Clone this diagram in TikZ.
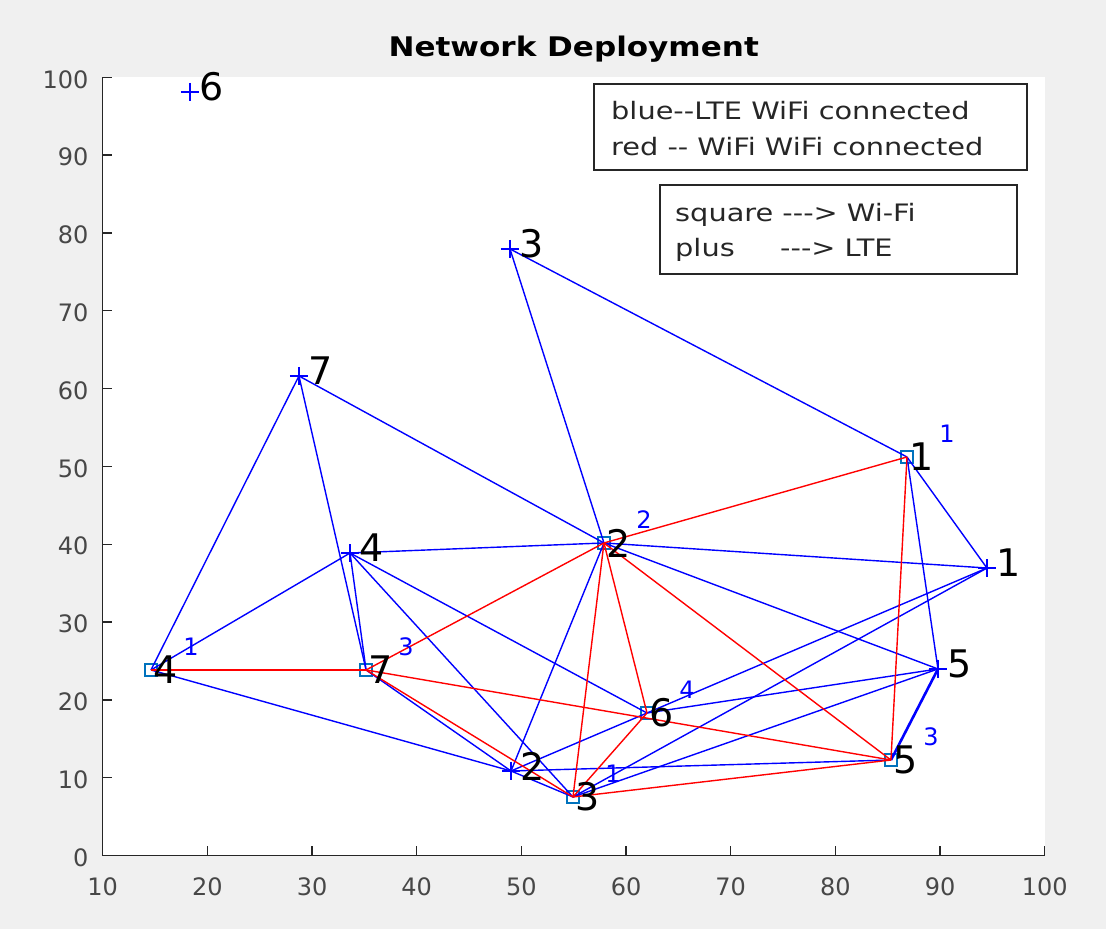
\documentclass[tikz,border=0pt]{standalone}
\usepackage{fontspec}
\setmainfont{DejaVu Sans}[Ligatures=TeXOff]
\newfontfamily\widefont{DejaVu Sans}[Ligatures=TeXOff, FakeStretch=1.2]
\newfontfamily\widebold{DejaVu Sans Bold}[Ligatures=TeXOff, FakeStretch=1.15]
\definecolor{figbg}{RGB}{240,240,240}
\definecolor{axcol}{RGB}{38,38,38}
\definecolor{wificol}{RGB}{0,114,189}
\definecolor{ltecol}{RGB}{0,0,255}
\definecolor{wwcol}{RGB}{255,0,0}
\begin{document}
\begin{tikzpicture}[x=1pt,y=1pt,
  axisline/.style={axcol, line width=1.3pt},
  ticklbl/.style={text=axcol!85, font=\fontsize{24}{28}\selectfont, inner sep=0pt},
  lte/.style={inner sep=0pt, minimum size=18pt,
    path picture={\draw[ltecol, line width=1.8pt]
      (path picture bounding box.north) -- (path picture bounding box.south)
      (path picture bounding box.west) -- (path picture bounding box.east);}},
  wifi/.style={draw=wificol, line width=1.4pt, inner sep=0pt, minimum size=12pt},
  lteedge/.style={ltecol, line width=1.4pt},
  wwedge/.style={wwcol, line width=1.4pt},
  biglbl/.style={font=\fontsize{38}{40}\selectfont, inner sep=0pt, text=black},
  chlbl/.style={font=\fontsize{24}{26}\selectfont, inner sep=0pt, text=ltecol},
  legbox/.style={draw=axcol, line width=1.3pt, fill=white},
  legtxt/.style={font=\widefont\fontsize{24}{26}\selectfont, inner sep=0pt, text=axcol, anchor=base west}
]
\useasboundingbox (0,0) rectangle (1106,929);
\fill[figbg] (0,0) rectangle (1106,929);
\fill[white] (102.7,73.5) rectangle (1044.7,851.7);
\node[font=\widebold\fontsize{27}{30}\selectfont, text=black] (title) at (573.7,880) {Network Deployment};

\begin{scope}[shift={(-1.97,73.5)}, x=10.467pt, y=7.782pt]
  % axes
  \coordinate (origin) at (10,0);
  \coordinate (xend) at (100,0);
  \coordinate (yend) at (10,100);
  \draw[axisline] (yend) -- (origin) -- (xend);
  \foreach \t in {20,30,...,100} \draw[axisline] (\t,0) -- ++(0pt,9pt);
  \foreach \t in {10,20,...,100} \draw[axisline] (10,\t) -- ++(9pt,0pt);
  \foreach \t in {10,20,...,100} \node[ticklbl] (xl\t) at ([yshift=-31.5pt]\t,0) {\t};
  \foreach \t in {0,10,...,100} \node[ticklbl, anchor=east] (yl\t) at ([xshift=-14pt,yshift=-2pt]10,\t) {\t};

  % LTE nodes
  \node[lte] (L1) at (94.48,36.94) {};
  \node[lte] (L2) at (49.01,10.86) {};
  \node[lte] (L3) at (48.91,77.94) {};
  \node[lte] (L4) at (33.63,38.87) {};
  \node[lte] (L5) at (89.80,23.97) {};
  \node[lte] (L6) at (18.34,98.11) {};
  \node[lte] (L7) at (28.75,61.62) {};
  % WiFi nodes
  \node[wifi] (W1) at (86.84,51.21) {};
  \node[wifi] (W2) at (57.89,40.16) {};
  \node[wifi] (W3) at (54.93,7.52) {};
  \node[wifi] (W4) at (14.61,23.84) {};
  \node[wifi] (W5) at (85.31,12.27) {};
  \node[wifi] (W6) at (62.00,18.31) {};
  \node[wifi] (W7) at (35.16,23.84) {};

  % LTE - WiFi links
  \foreach \a/\b in {L3/W2,L3/W1,L7/W4,L7/W2,L7/W7,L4/W7,L4/W4,L4/W2,L4/W6,L4/W3,
                     L2/W4,L2/W7,L2/W2,L2/W6,L2/W3,L2/W5,L1/W1,L1/W2,L1/W6,L1/W3,
                     L5/W1,L5/W2,L5/W6,L5/W3}
    \draw[lteedge] (\a.center) -- (\b.center);
  \draw[lteedge, line width=2.6pt] (L5.center) -- (W5.center);
  % WiFi - WiFi links
  \foreach \a/\b in {W4/W7,W7/W2,W7/W5,W7/W3,W2/W1,W2/W3,W2/W6,W2/W5,W1/W5,W6/W3,W3/W5}
    \draw[wwedge] (\a.center) -- (\b.center);

  % node labels
  \foreach \n/\t in {L1/1,L2/2,L3/3,L4/4,L5/5,L6/6,L7/7}
    \node[biglbl] (t\n) at ([shift={(22pt,5pt)}]\n.center) {\t};
  \foreach \n/\t in {W1/1,W2/2,W3/3,W4/4,W5/5,W6/6,W7/7}
    \node[biglbl] (t\n) at ([shift={(15pt,0pt)}]\n.center) {\t};
  % channel labels
  \foreach \n/\t in {W1/1,W2/2,W3/1,W4/1,W5/3,W6/4,W7/3}
    \node[chlbl] (c\n) at ([shift={(40pt,23pt)}]\n.center) {\t};
\end{scope}

% legends
\node[legbox, minimum width=433pt, minimum height=86pt, inner sep=0pt] (leg1) at (810.5,802) {};
\node[legtxt] (leg1a) at (611,809) {blue--LTE WiFi connected};
\node[legtxt] (leg1b) at (611,773) {red -- WiFi WiFi connected};
\node[legbox, minimum width=357pt, minimum height=89pt, inner sep=0pt] (leg2) at (838.5,699.5) {};
\node[legtxt] (leg2a) at (675,707.3) {square ---> Wi-Fi};
\node[legtxt] (leg2b) at (675,672.3) {plus};
\node[legtxt] (leg2c) at (780,672.3) {---> LTE};
\end{tikzpicture}
\end{document}
